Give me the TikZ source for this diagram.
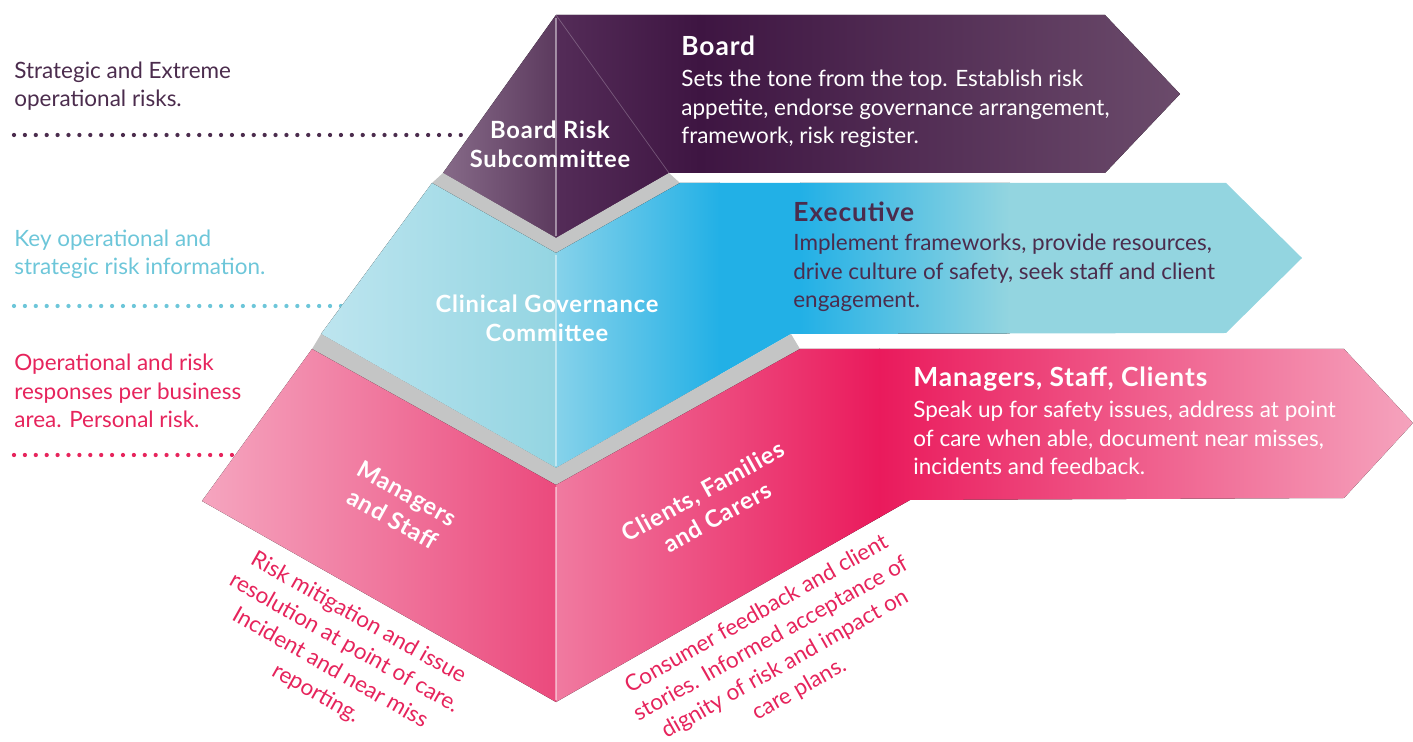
\documentclass[tikz,border=0pt]{standalone}
\usepackage{fontspec}
\setmainfont{Lato}
\newfontfamily\widefont{Lato}[LetterSpace=3.5]

\definecolor{purA}{HTML}{542C58}
\definecolor{purB}{HTML}{3E1542}
\definecolor{purC}{HTML}{6B4B6B}
\definecolor{purL1}{HTML}{866A88}
\definecolor{purL2}{HTML}{5C3A5E}
\definecolor{bluA}{HTML}{86D2EA}
\definecolor{bluB}{HTML}{22B0E6}
\definecolor{bluC}{HTML}{93D5E0}
\definecolor{bluL1}{HTML}{BDE5EF}
\definecolor{bluL2}{HTML}{94D5E2}
\definecolor{pinA}{HTML}{F07AA0}
\definecolor{pinB}{HTML}{EA1A5C}
\definecolor{pinC}{HTML}{F5A3BD}
\definecolor{pinL1}{HTML}{F5A5BF}
\definecolor{pinL2}{HTML}{EB4A7D}
\definecolor{bandgrey}{HTML}{C4C5C5}
\definecolor{purtext}{HTML}{4B2C4D}
\definecolor{blutext}{HTML}{6DC6D9}
\definecolor{pintext}{HTML}{E6245C}

\tikzset{
  band/.style={fill=bandgrey},
  dotline/.style={line width=0.085cm, dash pattern=on 0pt off 0.218cm, line cap=round},
  sidetext/.style={anchor=base west, align=left, inner sep=0pt, font=\fontsize{12.8}{16.4}\selectfont},
  headtext/.style={anchor=base west, inner sep=0pt, font=\widefont\bfseries\fontsize{15}{17}\selectfont},
  pyrlabel/.style={align=center, text=white, inner sep=0pt, font=\widefont\bfseries\fontsize{13.5}{16.6}\selectfont},
  rottext/.style={align=center, text=pintext, inner sep=0pt, font=\fontsize{12.8}{16.4}\selectfont},
  spine/.style={white, opacity=0.45, line width=0.7pt}
}

\begin{document}
\begin{tikzpicture}[x=0.02cm, y=-0.02cm]
  \useasboundingbox (0,0) rectangle (1413,742);

  \coordinate (d1a) at (14,135);  \coordinate (d1b) at (470,135);
  \coordinate (d2a) at (14,306);  \coordinate (d2b) at (342,306);
  \coordinate (d3a) at (14,455);  \coordinate (d3b) at (236,455);
  \draw[dotline, purtext] (d1a) -- (d1b);
  \draw[dotline, blutext] (d2a) -- (d2b);
  \draw[dotline, pintext] (d3a) -- (d3b);

  \fill[left color=purL1, right color=purL2] (556,15) -- (443,173) -- (556,238) -- cycle;
  \begin{scope}
    \clip (556,15) -- (1105,15) -- (1180,94) -- (1105,173) -- (669,173) -- (556,238) -- cycle;
    \fill[left color=purA, right color=purB] (556,0) rectangle (700,240);
    \fill[left color=purB, right color=purC] (700,0) rectangle (1181,240);
  \end{scope}
  \draw[white, opacity=0.25, line width=0.4pt] (556,15) -- (669,173);
  \draw[spine] (556,18) -- (556,236);

  \fill[band] (443,173) -- (556,238) -- (669,173) -- (680,183) -- (556,253) -- (432,183) -- cycle;

  \fill[left color=bluL1, right color=bluL2] (432,183) -- (556,253) -- (556,468) -- (321,334) -- cycle;
  \begin{scope}
    \clip (556,253) -- (680,183) -- (1226,183) -- (1302,258) -- (1226,333) -- (791,334) -- (556,468) -- cycle;
    \fill[left color=bluA, right color=bluB] (556,180) rectangle (720,470);
    \fill[bluB] (719,180) rectangle (801,470);
    \fill[left color=bluB, right color=bluC] (800,180) rectangle (1010,470);
    \fill[bluC] (1009,180) rectangle (1303,470);
  \end{scope}
  \draw[spine] (556,255) -- (556,466);

  \fill[band] (321,334) -- (556,468) -- (791,334) -- (800,349) -- (556,485) -- (312,349) -- cycle;

  \fill[left color=pinL1, right color=pinL2] (312,349) -- (556,485) -- (556,702) -- (202,501) -- cycle;
  \begin{scope}
    \clip (556,485) -- (800,349) -- (1344,349) -- (1413,423) -- (1344,498) -- (910,500) -- (556,702) -- cycle;
    \fill[left color=pinA, right color=pinB] (556,345) rectangle (880,705);
    \fill[left color=pinB, right color=pinC] (879,345) rectangle (1413,705);
  \end{scope}
  \draw[spine] (556,487) -- (556,700);

  \node[sidetext, text=purtext] (strategic) at (14,107) {Strategic and Extreme\\operational risks.};
  \node[sidetext, text=blutext] (keyinfo) at (14,275) {Key operational and\\strategic risk information.};
  \node[sidetext, text=pintext] (operational) at (14,428) {Operational and risk\\responses per business\\area. Personal risk.};

  \node[pyrlabel] (subcommittee) at (550,144) {Board Risk\\Subcommittee};
  \node[pyrlabel] (governance) at (547,318) {Clinical Governance\\Committee};
  \node[pyrlabel, rotate=-29] (managers) at (400,506) {Managers\\and Staff};
  \node[pyrlabel, rotate=29] (clients) at (710,504) {Clients, Families\\and Carers};

  \node[headtext, text=white] (board) at (681,56) {Board};
  \node[sidetext, text=white] (boardtxt) at (681,144) {Sets the tone from the top. Establish risk\\appetite, endorse governance arrangement,\\framework, risk register.};
  \node[headtext, text=purtext] (executive) at (793,222) {Executive};
  \node[sidetext, text=purtext] (exectxt) at (793,308) {Implement frameworks, provide resources,\\drive culture of safety, seek staff and client\\engagement.};
  \node[headtext, text=white] (staff) at (913,387) {Managers, Staff, Clients};
  \node[sidetext, text=white] (stafftxt) at (913,475) {Speak up for safety issues, address at point\\of care when able, document near misses,\\incidents and feedback.};

  \node[rottext, rotate=-29.5] (mitigation) at (337,656) {Risk mitigation and issue\\resolution at point of care.\\Incident and near miss\\reporting.};
  \node[rottext, rotate=29.5] (feedback) at (778,652) {Consumer feedback and client\\stories. Informed acceptance of\\dignity of risk and impact on\\care plans.};
\end{tikzpicture}
\end{document}
